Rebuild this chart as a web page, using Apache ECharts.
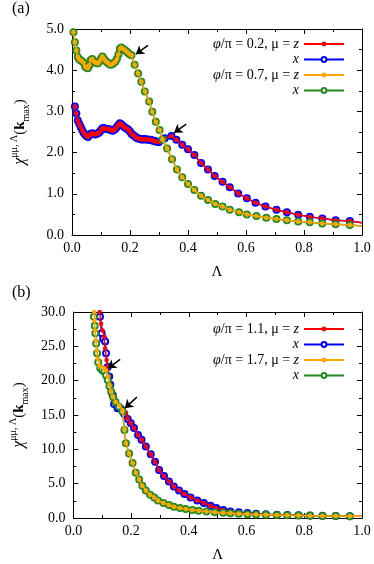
<!DOCTYPE html>
<html>
<head>
<meta charset="utf-8">
<script src="https://cdn.jsdelivr.net/npm/echarts@6/dist/echarts.min.js"></script>
<style>
  html, body { margin: 0; padding: 0; background: #fff; }
  #chart { width: 374px; height: 564px; }
</style>
</head>
<body>
<div id="chart"></div>
<script>
// panel (a): phi/pi = 0.2 (z and x components coincide)
const lamA02 = [0.010,0.015,0.020,0.025,0.030,0.035,0.040,0.045,0.050,0.055,0.060,0.065,0.070,0.075,0.080,0.085,0.090,0.095,0.100,0.105,
  0.110,0.115,0.120,0.125,0.130,0.135,0.140,0.145,0.150,0.155,0.160,0.165,0.170,0.175,0.180,0.185,0.190,0.195,0.200,0.205,
  0.210,0.215,0.220,0.225,0.230,0.235,0.240,0.245,0.250,0.255,0.260,0.265,0.270,0.275,0.280,0.285,0.290,0.295,0.300,
  0.320,0.343,0.360,0.380,0.400,0.422,0.445,0.469,0.492,0.519,0.544,0.573,0.603,0.633,0.667,0.705,0.741,0.780,0.820,0.863,0.909,0.958,1.000];
const chiA02 = [3.12,2.95,2.78,2.70,2.62,2.55,2.48,2.44,2.40,2.38,2.42,2.46,2.47,2.45,2.44,2.46,2.47,2.50,2.55,2.59,
  2.60,2.58,2.57,2.57,2.56,2.54,2.53,2.55,2.58,2.62,2.67,2.71,2.69,2.65,2.62,2.60,2.58,2.55,2.51,2.46,
  2.43,2.40,2.37,2.35,2.34,2.33,2.32,2.32,2.33,2.32,2.32,2.31,2.31,2.30,2.29,2.28,2.27,2.26,2.26,
  2.35,2.40,2.31,2.19,2.08,1.94,1.75,1.59,1.43,1.29,1.16,1.01,0.89,0.78,0.69,0.61,0.55,0.49,0.44,0.40,0.36,0.34,0.30];

// panel (a): phi/pi = 0.7
const lamA07 = [0.005,0.010,0.015,0.020,0.025,0.030,0.035,0.040,0.045,0.050,0.055,0.060,0.065,0.070,0.075,0.080,0.085,0.090,0.095,0.100,
  0.105,0.110,0.115,0.120,0.125,0.130,0.135,0.140,0.145,0.150,0.155,0.160,0.165,0.170,0.175,0.180,0.185,0.190,0.195,0.200,0.205,
  0.216,0.228,0.239,0.251,0.266,0.277,0.289,0.302,0.312,0.328,0.345,0.362,0.380,0.400,0.422,0.445,0.469,0.494,0.519,0.544,
  0.576,0.603,0.636,0.670,0.705,0.741,0.780,0.820,0.863,0.909,0.958,1.000];
const chiA07 = [4.92,4.68,4.48,4.32,4.26,4.24,4.22,4.18,4.09,4.06,4.05,4.12,4.25,4.27,4.21,4.19,4.17,4.17,4.22,4.28,
  4.33,4.28,4.23,4.20,4.17,4.14,4.13,4.15,4.18,4.21,4.28,4.38,4.52,4.55,4.52,4.50,4.47,4.44,4.41,4.38,4.36,
  4.13,3.92,3.72,3.48,3.24,2.99,2.75,2.55,2.32,2.10,1.84,1.59,1.40,1.24,1.09,0.95,0.85,0.75,0.69,0.61,
  0.55,0.50,0.46,0.42,0.39,0.36,0.33,0.31,0.28,0.26,0.24,0.22];

// panel (b): phi/pi = 1.1
const lamB11z = [0.091,0.096,0.101,0.107,0.110,0.115,0.119,0.122,0.127,0.132,0.139,0.147,0.156,0.164,0.174,0.182,0.188,
  0.199,0.210,0.224,0.236,0.251,0.268,0.283,0.297,0.314,0.331,0.348,0.366,0.385,0.406,0.429,0.452,0.475,0.495,0.519,0.544,
  0.573,0.603,0.633,0.667,0.705,0.741,0.780,0.820,0.863,0.909,0.958,1.000];
const chiB11z = [30.0,28.3,27.3,26.4,24.7,23.0,22.0,20.6,19.4,18.4,17.4,16.7,16.4,16.1,15.8,15.3,14.5,
  13.8,13.1,12.1,11.4,10.4,9.3,8.2,7.0,6.1,5.3,4.6,4.0,3.5,3.0,2.55,2.18,1.80,1.45,1.15,0.96,
  0.82,0.72,0.62,0.55,0.48,0.43,0.39,0.35,0.32,0.29,0.27,0.25];
const lamB11x = [0.092,0.098,0.103,0.110,0.113,0.119,0.124,0.128,0.136,0.141,0.153,0.164,0.176,0.188,
  0.199,0.210,0.224,0.236,0.251,0.268,0.283,0.297,0.314,0.331,0.348,0.366,0.385,0.406,0.429,0.452,0.475,0.495,0.519,0.544,
  0.573,0.603,0.633,0.667,0.705,0.741,0.780,0.820,0.863,0.909,0.958];
const chiB11x = [29.3,26.9,26.1,25.7,24.0,22.0,20.6,19.4,17.9,16.6,16.0,15.9,15.2,14.4,
  13.8,13.1,12.1,11.4,10.4,9.3,8.2,7.0,6.1,5.3,4.6,4.0,3.5,3.0,2.55,2.18,1.80,1.45,1.15,0.96,
  0.82,0.72,0.62,0.55,0.48,0.43,0.39,0.35,0.32,0.29,0.27];

// panel (b): phi/pi = 1.7
const lamB17z = [0.072,0.073,0.075,0.078,0.081,0.084,0.090,0.098,0.107,0.113,0.119,0.125,0.130,0.136,0.147,0.159,0.170,
  0.177,0.182,0.193,0.205,0.216,0.228,0.239,0.251,0.266,0.280,0.293,0.312,0.331,0.348,0.369,0.389,0.412,0.434,0.461,
  0.490,0.519,0.544,0.573,0.603,0.633,0.667,0.705,0.741,0.780,0.820,0.863,0.909,0.958,1.000];
const chiB17z = [30.0,28.8,27.3,25.9,24.4,23.2,22.2,21.9,21.8,21.5,20.6,19.4,18.5,17.7,16.9,16.4,15.7,
  13.0,10.9,9.4,8.0,6.6,5.6,4.7,4.0,3.4,3.0,2.55,2.18,1.89,1.64,1.45,1.30,1.16,1.06,0.95,
  0.85,0.76,0.69,0.62,0.56,0.51,0.47,0.43,0.39,0.36,0.33,0.30,0.28,0.26,0.24];
const lamB17x = [0.071,0.074,0.076,0.079,0.082,0.086,0.093,0.100,0.107,0.113,0.119,0.125,0.131,0.138,0.146,0.158,0.170,
  0.177,0.182,0.193,0.205,0.216,0.228,0.239,0.251,0.266,0.280,0.293,0.312,0.331,0.348,0.369,0.389,0.412,0.434,0.461,
  0.490,0.519,0.544,0.573,0.603,0.633,0.667,0.705,0.741,0.780,0.820,0.863,0.909,0.958];
const chiB17x = [29.3,28.0,26.9,25.4,24.0,22.7,21.8,21.5,21.3,20.8,20.1,19.2,18.4,17.6,16.9,16.2,15.5,
  12.8,10.9,9.4,8.0,6.6,5.6,4.7,4.0,3.4,3.0,2.55,2.18,1.89,1.64,1.45,1.30,1.16,1.06,0.95,
  0.85,0.76,0.69,0.62,0.56,0.51,0.47,0.43,0.39,0.36,0.33,0.30,0.28,0.26];

// arrow annotations: [tailLam, tailChi, headLam, headChi]
const arrowsA = [[0.262, 4.60, 0.220, 4.39], [0.394, 2.69, 0.352, 2.48]];
const arrowsB = [[0.162, 23.1, 0.120, 21.8], [0.220, 17.6, 0.178, 16.0]];

const xTicks = {min: 0, max: 1, interval: 0.2};
const yTicksA = {min: 0, max: 5, interval: 1};
const yTicksB = {min: 0, max: 30, interval: 5};

const legendNames = {
    a02z: '{i|φ}/π = 0.2, μ = {i|z}', a02x: '{i|x}',
    a07z: '{i|φ}/π = 0.7, μ = {i|z}', a07x: '{i|x}',
    b11z: '{i|φ}/π = 1.1, μ = {i|z}', b11x: '{i|x}',
    b17z: '{i|φ}/π = 1.7, μ = {i|z}', b17x: '{i|x}',
};

const FONT = 'Liberation Serif';
const RED = '#ff0000', BLUE = '#0000ff', ORANGE = '#ffa500', GREEN = '#228b22';

function pts(lam, chi) {
    return lam.map((l, i) => (l === 1 ? {value: [l, chi[i]], symbol: 'none'} : [l, chi[i]]));
}

function arrowData(arrows) {
    return arrows.map(a => [{coord: [a[0], a[1]]}, {coord: [a[2], a[3]]}]);
}

function lineSeries(name, grid, lam, chi, color, hollow, z, arrows) {
    const s = {
        name: name,
        type: 'line',
        xAxisIndex: grid * 2,
        yAxisIndex: grid * 2,
        data: pts(lam, chi),
        symbol: hollow ? 'emptyCircle' : 'circle',
        symbolSize: hollow ? 6 : 4.5,
        showAllSymbol: true,
        lineStyle: {color: color, width: 1.5},
        itemStyle: {color: color, borderColor: color, borderWidth: hollow ? 1.3 : 0},
        emphasis: {disabled: true},
        z: z,
        animation: false,
    };
    if (arrows) {
        s.markLine = {
            silent: true,
            symbol: ['none', 'arrow'],
            symbolSize: 8,
            lineStyle: {color: '#000', width: 1.5, type: 'solid'},
            label: {show: false},
            emphasis: {disabled: true},
            data: arrowData(arrows),
        };
    }
    return s;
}

const yName = '{c|χ}{s|μμ, Λ}{p|(}{k|k}{m|max}{p|)}';
const yNameRich = {
    c: {fontFamily: FONT, fontSize: 16, fontStyle: 'italic', lineHeight: 22},
    s: {fontFamily: FONT, fontSize: 10, verticalAlign: 'top', lineHeight: 22},
    p: {fontFamily: FONT, fontSize: 15, lineHeight: 22},
    k: {fontFamily: FONT, fontSize: 15, fontWeight: 'bold', lineHeight: 22},
    m: {fontFamily: FONT, fontSize: 10, verticalAlign: 'bottom', lineHeight: 22},
};

function xAxes(grid) {
    const base = {
        type: 'value', gridIndex: grid, ...xTicks,
        axisLine: {show: true, onZero: false, lineStyle: {color: '#000', width: 1}},
        axisTick: {show: true, inside: true, length: 5, lineStyle: {color: '#000'}},
        minorTick: {show: true, splitNumber: 2, length: 3, lineStyle: {color: '#000'}},
        splitLine: {show: false},
    };
    return [
        {...base, position: 'bottom', name: 'Λ', nameLocation: 'middle', nameGap: 30,
            nameTextStyle: {fontFamily: FONT, fontSize: 15, color: '#000'},
            axisLabel: {fontFamily: FONT, fontSize: 14, color: '#000', margin: 6, formatter: v => v.toFixed(1)}},
        {...base, position: 'top', axisLabel: {show: false}},
    ];
}

function yAxes(grid, ticks) {
    const base = {
        type: 'value', gridIndex: grid, ...ticks,
        axisLine: {show: true, onZero: false, lineStyle: {color: '#000', width: 1}},
        axisTick: {show: true, inside: true, length: 5, lineStyle: {color: '#000'}},
        minorTick: {show: true, splitNumber: 2, length: 3, lineStyle: {color: '#000'}},
        splitLine: {show: false},
    };
    return [
        {...base, position: 'left', name: yName, nameLocation: 'middle', nameGap: 41, nameRotate: 90,
            nameTextStyle: {color: '#000', rich: yNameRich},
            axisLabel: {fontFamily: FONT, fontSize: 14, color: '#000', margin: 8, formatter: v => v.toFixed(1)}},
        {...base, position: 'right', axisLabel: {show: false}},
    ];
}

function legend(top, names) {
    return {
        orient: 'vertical',
        right: 29,
        top: top,
        align: 'right',
        itemWidth: 40,
        itemHeight: 6,
        itemGap: 1.5,
        padding: 0,
        data: names,
        selectedMode: false,
        formatter: n => legendNames[n],
        textStyle: {
            fontFamily: FONT, fontSize: 14, color: '#000', lineHeight: 14,
            rich: {i: {fontFamily: FONT, fontSize: 14, fontStyle: 'italic', lineHeight: 14}},
        },
    };
}

const chart = echarts.init(document.getElementById('chart'), null, {renderer: 'canvas'});

chart.setOption({
    animation: false,
    backgroundColor: '#fff',
    grid: [
        {left: 72, right: 12, top: 29, height: 206},
        {left: 72, right: 12, top: 312, height: 206},
    ],
    xAxis: [...xAxes(0), ...xAxes(1)],
    yAxis: [...yAxes(0, yTicksA), ...yAxes(1, yTicksB)],
    legend: [
        legend(37, ['a02z', 'a02x', 'a07z', 'a07x']),
        legend(322, ['b11z', 'b11x', 'b17z', 'b17x']),
    ],
    graphic: [
        {type: 'text', left: 12, top: 1, style: {text: '(a)', font: '16px "Liberation Serif"', fill: '#000'}},
        {type: 'text', left: 12, top: 285, style: {text: '(b)', font: '16px "Liberation Serif"', fill: '#000'}},
    ],
    series: [
        lineSeries('a02x', 0, lamA02, chiA02, BLUE, true, 2),
        lineSeries('a02z', 0, lamA02, chiA02, RED, false, 3),
        lineSeries('a07x', 0, lamA07, chiA07, GREEN, true, 4),
        lineSeries('a07z', 0, lamA07, chiA07, ORANGE, false, 5, arrowsA),
        lineSeries('b11x', 1, lamB11x, chiB11x, BLUE, true, 2),
        lineSeries('b11z', 1, lamB11z, chiB11z, RED, false, 3),
        lineSeries('b17x', 1, lamB17x, chiB17x, GREEN, true, 4),
        lineSeries('b17z', 1, lamB17z, chiB17z, ORANGE, false, 5, arrowsB),
    ],
});
</script>
</body>
</html>
